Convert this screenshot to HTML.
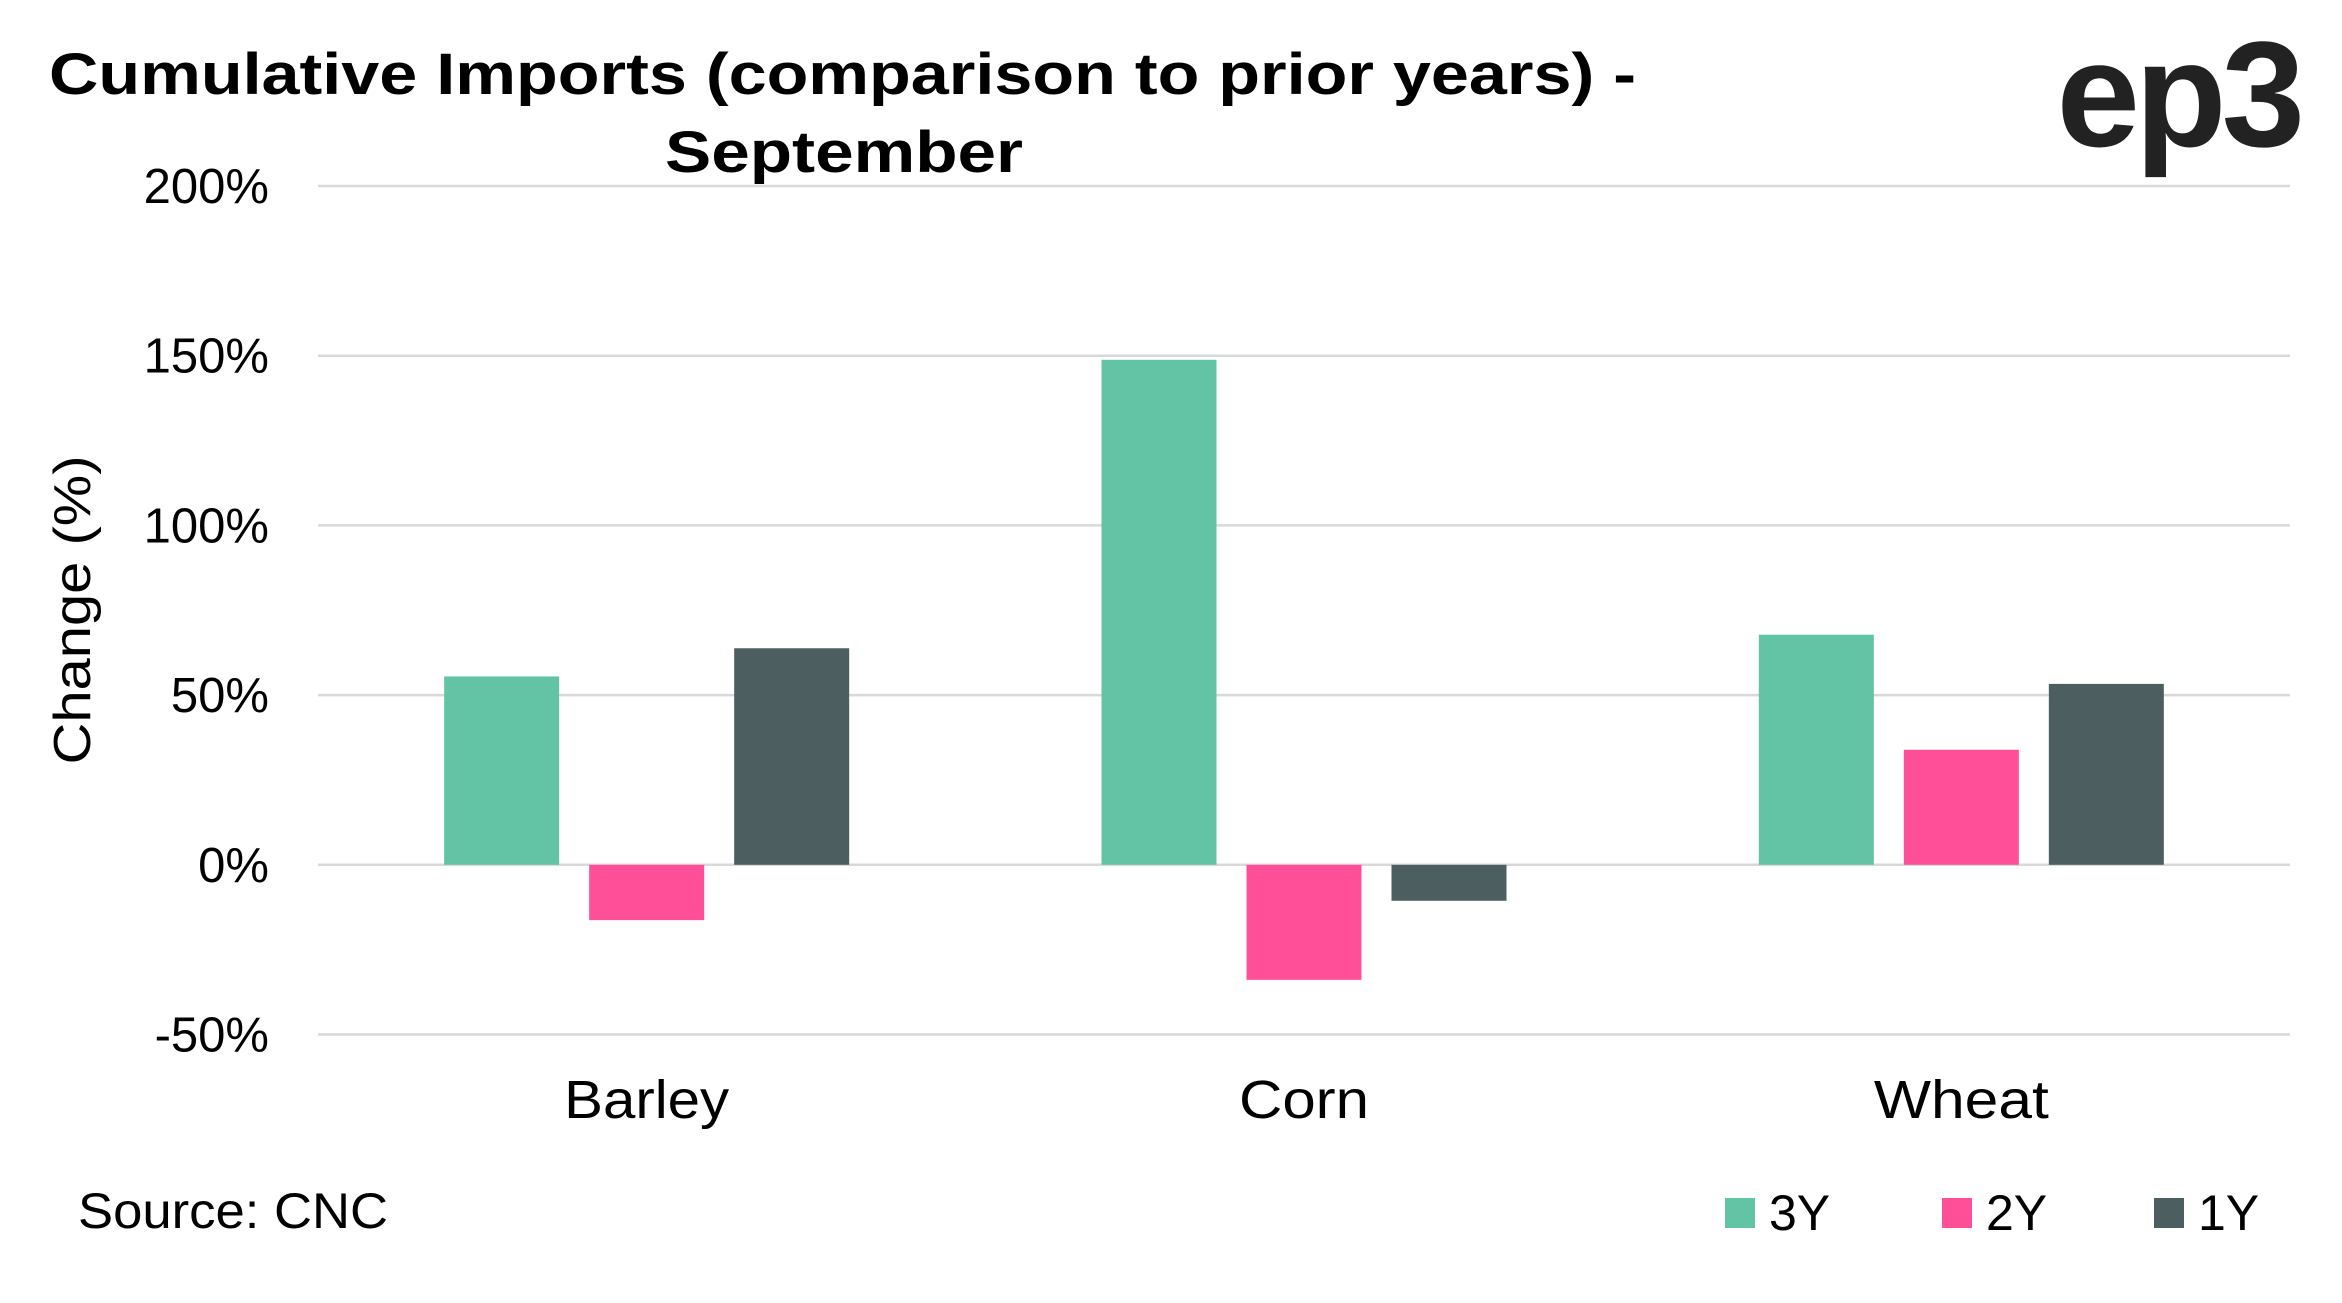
<!DOCTYPE html>
<html><head><meta charset="utf-8"><style>
html,body{margin:0;padding:0;background:#fff;}
svg{display:block;font-family:"Liberation Sans",sans-serif;}
</style></head><body>
<svg id="chart" width="2342" height="1303" viewBox="0 0 2342 1303">
<text x="49" y="94" font-size="58" font-weight="bold" fill="#000" textLength="1587" lengthAdjust="spacingAndGlyphs">Cumulative Imports (comparison to prior years) -</text>
<text x="665" y="172" font-size="58" font-weight="bold" fill="#000" textLength="358" lengthAdjust="spacingAndGlyphs">September</text>
<text x="2300" y="146" font-size="150" font-weight="bold" fill="#222" text-anchor="end" letter-spacing="-5">ep3</text>
<g id="grid"></g>
<g id="bars"></g>
<text transform="translate(90,610) rotate(-90)" font-size="52" text-anchor="middle" fill="#000" textLength="309" lengthAdjust="spacingAndGlyphs">Change (%)</text>
<text x="78" y="1228" font-size="50" fill="#000" textLength="310" lengthAdjust="spacingAndGlyphs">Source: CNC</text>
<g id="legend"></g>
</svg>
<script>
const categories=["Barley","Corn","Wheat"];
const series=["3Y","2Y","1Y"];
const v3Y=[55.5,148.8,67.8];
const v2Y=[-16.3,-33.9,33.9];
const v1Y=[63.8,-10.6,53.3];
const ticks=[-50,0,50,100,150,200];
const tickLabels=["-50%","0%","50%","100%","150%","200%"];
const colors=["#62c4a4","#ff4f98","#4c5e60"];
const values=[v3Y,v2Y,v1Y];
const NS="http://www.w3.org/2000/svg";
const x0=318,x1=2290,yZero=864.8,per=169.7/50;
const y=v=>yZero-v*per;
const catW=(x1-x0)/categories.length,barW=115,gap=30;
function mk(t,a,p){const e=document.createElementNS(NS,t);for(const k in a)e.setAttribute(k,a[k]);p.appendChild(e);return e;}
const grid=document.getElementById('grid');
ticks.forEach((t,i)=>{
 const l=mk('line',{x1:x0,x2:x1,y1:y(t),y2:y(t),stroke:"#d9d9d9","stroke-width":2.5},grid);
 
 
 const tx=mk('text',{x:269,y:y(t)+17,"font-size":49,"text-anchor":"end",fill:"#000"},grid);
 tx.textContent=tickLabels[i];
 
 
});
const bars=document.getElementById('bars');
const labelLen=[165,130,175];
categories.forEach((c,ci)=>{
 const cx=x0+catW*(ci+0.5);
 const groupW=3*barW+2*gap;
 values.forEach((arr,si)=>{
  const v=arr[ci];
  const bx=cx-groupW/2+si*(barW+gap);
  const r=mk('rect',{x:bx,y:Math.min(y(v),yZero),width:barW,height:Math.abs(y(v)-yZero),fill:colors[si]},bars);
  
  
 });
 const t=mk('text',{x:cx-labelLen[ci]/2,y:1118,"font-size":54,fill:"#000",textLength:labelLen[ci],lengthAdjust:"spacingAndGlyphs"},bars);
 t.textContent=c;
 
 
});
const leg=document.getElementById('legend');
const lx=[1725,1942,2154];
series.forEach((s,i)=>{
 const r=mk('rect',{x:lx[i],y:1198,width:30,height:30,fill:colors[i]},leg);
 
 
 const t=mk('text',{x:lx[i]+44,y:1230,"font-size":50,fill:"#000"},leg);
 t.textContent=s;
 
 
});
</script>
</body></html>
